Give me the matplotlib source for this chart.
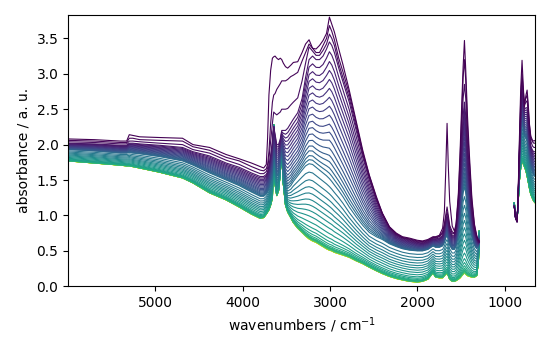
import numpy as np
import matplotlib.pyplot as plt

# wavenumber grids (cm-1), the region 1290-890 is missing in the data
wn_left = [6000, 5700, 5400, 5330, 5300, 5260, 5180, 4950, 4690, 4570,
           4380, 4190, 4040, 3900, 3800, 3760, 3730, 3715, 3700, 3680,
           3660, 3645, 3630, 3610, 3590, 3570, 3553, 3535, 3510, 3485,
           3450, 3420, 3370, 3320, 3280, 3240, 3200, 3160, 3120, 3080,
           3040, 3007, 2980, 2950, 2900, 2850, 2780, 2700, 2625, 2550,
           2470, 2400, 2320, 2240, 2170, 2090, 2000, 1940, 1880, 1820,
           1790, 1747, 1710, 1690, 1675, 1659, 1645, 1629, 1600, 1575,
           1556, 1530, 1510, 1490, 1475, 1460, 1445, 1425, 1403, 1375,
           1346, 1320, 1300, 1290]
wn_right = [889, 875, 857, 845, 830, 815, 800, 785, 773, 755, 742, 728,
            716, 700, 680, 665, 650]

# spectra: first four, one in the middle (#20), last (#54)
s0_left = [2.08, 2.07, 2.05, 2.05, 2.14, 2.13, 2.11, 2.10, 2.09, 2.00,
           1.96, 1.86, 1.80, 1.74, 1.69, 1.67, 1.72, 2.10, 2.70, 3.05,
           3.22, 3.24, 3.25, 3.22, 3.20, 3.22, 3.20, 3.15, 3.10, 3.08,
           3.12, 3.16, 3.17, 3.30, 3.42, 3.48, 3.36, 3.35, 3.40, 3.47,
           3.57, 3.80, 3.70, 3.59, 3.35, 3.12, 2.77, 2.33, 1.92, 1.57,
           1.27, 1.03, 0.84, 0.75, 0.70, 0.68, 0.65, 0.64, 0.66, 0.70,
           0.70, 0.72, 0.82, 1.05, 1.60, 2.30, 1.70, 1.20, 0.85, 0.78,
           0.88, 1.30, 1.90, 2.60, 3.10, 3.47, 3.05, 2.40, 1.85, 1.25,
           0.88, 0.72, 0.65, 0.64]
s1_left = [2.06, 2.05, 2.03, 2.03, 2.09, 2.09, 2.07, 2.06, 2.05, 1.97,
           1.92, 1.82, 1.77, 1.69, 1.64, 1.63, 1.66, 1.72, 1.90, 2.30,
           2.60, 2.70, 2.72, 2.78, 2.82, 2.86, 2.90, 2.90, 2.90, 2.92,
           2.96, 2.98, 3.02, 3.18, 3.30, 3.42, 3.36, 3.30, 3.30, 3.40,
           3.50, 3.68, 3.60, 3.48, 3.22, 3.02, 2.72, 2.30, 1.89, 1.56,
           1.25, 1.03, 0.84, 0.74, 0.69, 0.67, 0.64, 0.63, 0.65, 0.69,
           0.69, 0.71, 0.77, 0.88, 1.00, 1.12, 1.00, 0.86, 0.77, 0.75,
           0.86, 1.25, 1.80, 2.45, 2.95, 3.20, 2.90, 2.25, 1.75, 1.20,
           0.86, 0.71, 0.64, 0.63]
s2_left = [2.04, 2.03, 2.01, 2.01, 2.05, 2.05, 2.04, 2.02, 2.00, 1.93,
           1.88, 1.78, 1.72, 1.64, 1.59, 1.59, 1.62, 1.67, 1.80, 2.05,
           2.30, 2.46, 2.44, 2.42, 2.44, 2.46, 2.50, 2.50, 2.50, 2.51,
           2.56, 2.60, 2.66, 2.90, 3.15, 3.38, 3.32, 3.26, 3.26, 3.33,
           3.42, 3.56, 3.50, 3.40, 3.14, 2.94, 2.66, 2.25, 1.86, 1.53,
           1.23, 1.02, 0.83, 0.73, 0.685, 0.66, 0.63, 0.62, 0.64, 0.68,
           0.68, 0.70, 0.75, 0.85, 0.96, 1.05, 0.96, 0.83, 0.75, 0.74,
           0.83, 1.18, 1.65, 2.25, 2.65, 2.85, 2.65, 2.05, 1.60, 1.10,
           0.82, 0.69, 0.63, 0.62]
s3_left = [2.02, 2.01, 1.99, 1.99, 2.02, 2.02, 2.01, 1.99, 1.96, 1.90,
           1.84, 1.74, 1.68, 1.60, 1.55, 1.55, 1.58, 1.62, 1.70, 1.85,
           2.05, 2.25, 2.15, 2.00, 2.00, 2.08, 2.20, 2.20, 2.20, 2.23,
           2.30, 2.36, 2.45, 2.65, 2.95, 3.20, 3.25, 3.20, 3.20, 3.25,
           3.35, 3.45, 3.40, 3.30, 3.08, 2.88, 2.60, 2.20, 1.82, 1.50,
           1.21, 1.00, 0.82, 0.72, 0.68, 0.65, 0.62, 0.61, 0.63, 0.67,
           0.67, 0.68, 0.72, 0.82, 0.92, 1.00, 0.92, 0.80, 0.72, 0.72,
           0.80, 1.10, 1.50, 2.05, 2.40, 2.60, 2.40, 1.90, 1.50, 1.05,
           0.80, 0.68, 0.62, 0.62]
smid_left = [1.93, 1.91, 1.88, 1.88, 1.89, 1.88, 1.87, 1.83, 1.77, 1.71,
             1.60, 1.50, 1.42, 1.33, 1.27, 1.27, 1.30, 1.33, 1.37, 1.45,
             1.55, 2.25, 1.75, 1.55, 1.58, 1.75, 1.95, 1.65, 1.45, 1.38,
             1.42, 1.48, 1.56, 1.64, 1.70, 1.73, 1.72, 1.68, 1.64, 1.60,
             1.56, 1.52, 1.48, 1.43, 1.35, 1.26, 1.12, 0.98, 0.86, 0.76,
             0.70, 0.66, 0.60, 0.56, 0.53, 0.51, 0.50, 0.50, 0.52, 0.57,
             0.55, 0.55, 0.57, 0.62, 0.68, 0.72, 0.66, 0.58, 0.52, 0.52,
             0.57, 0.72, 0.92, 1.15, 1.32, 1.40, 1.32, 1.10, 0.90, 0.70,
             0.58, 0.53, 0.56, 0.70]
send_left = [1.77, 1.74, 1.71, 1.70, 1.70, 1.69, 1.67, 1.61, 1.53, 1.46,
             1.32, 1.22, 1.12, 1.02, 0.96, 0.97, 1.02, 1.05, 1.08, 1.15,
             1.25, 2.28, 1.45, 1.28, 1.35, 1.60, 1.95, 1.45, 1.15, 1.05,
             0.97, 0.90, 0.82, 0.76, 0.71, 0.67, 0.64, 0.62, 0.59, 0.56,
             0.53, 0.51, 0.50, 0.48, 0.46, 0.44, 0.41, 0.36, 0.32, 0.27,
             0.22, 0.18, 0.14, 0.11, 0.09, 0.07, 0.06, 0.07, 0.10, 0.19,
             0.13, 0.12, 0.12, 0.15, 0.17, 0.18, 0.15, 0.10, 0.07, 0.07,
             0.08, 0.10, 0.12, 0.15, 0.17, 0.19, 0.17, 0.15, 0.14, 0.13,
             0.13, 0.15, 0.35, 0.78]

s0_right = [1.12, 0.97, 0.91, 1.30, 2.10, 2.80, 3.19, 2.80, 2.53, 2.70, 2.77, 2.55, 2.30, 2.12, 2.06, 2.05, 2.06]
s1_right = [1.12, 0.97, 0.91, 1.28, 2.00, 2.65, 3.00, 2.75, 2.60, 2.66, 2.70, 2.50, 2.28, 2.10, 2.04, 2.02, 2.02]
s2_right = [1.13, 0.97, 0.91, 1.26, 1.95, 2.55, 2.88, 2.70, 2.56, 2.60, 2.62, 2.43, 2.22, 2.05, 1.98, 1.96, 1.96]
s3_right = [1.13, 0.97, 0.91, 1.25, 1.90, 2.45, 2.78, 2.62, 2.50, 2.52, 2.52, 2.35, 2.15, 1.98, 1.92, 1.90, 1.90]
smid_right = [1.14, 0.98, 0.92, 1.22, 1.70, 2.10, 2.30, 2.22, 2.12, 2.08, 2.04, 1.92, 1.80, 1.68, 1.60, 1.56, 1.55]
send_right = [1.18, 1.00, 0.93, 1.18, 1.50, 1.68, 1.75, 1.73, 1.69, 1.63, 1.56, 1.47, 1.39, 1.30, 1.24, 1.20, 1.18]

# height of each of the 55 spectra near 3200 cm-1 (last ones pile up)
peak_3200 = [3.36, 3.36, 3.32, 3.25, 3.14, 3.03, 2.93, 2.83, 2.73, 2.63,
             2.53, 2.43, 2.33, 2.24, 2.15, 2.06, 1.98, 1.91, 1.84, 1.78,
             1.72, 1.60, 1.49, 1.39, 1.30, 1.21, 1.13, 1.05, 0.97, 0.89,
             0.82, 0.77, 0.73, 0.70, 0.68, 0.67, 0.665, 0.66, 0.657, 0.655,
             0.653, 0.651, 0.65, 0.649, 0.648, 0.647, 0.646, 0.645, 0.644, 0.643,
             0.642, 0.641, 0.6405, 0.6402, 0.64]

first_left = [s0_left, s1_left, s2_left, s3_left]
first_right = [s0_right, s1_right, s2_right, s3_right]
i_mid = 20


def spectrum(i):
    if i < 4:
        return np.array(first_left[i]), np.array(first_right[i])
    h = peak_3200[i]
    if i <= i_mid:
        t = (peak_3200[3] - h) / (peak_3200[3] - peak_3200[i_mid])
        a_l, a_r, b_l, b_r = s3_left, s3_right, smid_left, smid_right
    else:
        t = (peak_3200[i_mid] - h) / (peak_3200[i_mid] - peak_3200[-1])
        a_l, a_r, b_l, b_r = smid_left, smid_right, send_left, send_right
    left = (1 - t) * np.array(a_l) + t * np.array(b_l)
    right = (1 - t) * np.array(a_r) + t * np.array(b_r)
    return left, right


fig = plt.figure(figsize=(5.5, 3.5), dpi=100)
ax = fig.add_axes([0.124, 0.182, 0.849, 0.774])

n = len(peak_3200)
cmap = plt.get_cmap("viridis")
for i in reversed(range(n)):
    left, right = spectrum(i)
    c = cmap(i / (n - 1))
    ax.plot(wn_left, left, color=c, lw=0.8)
    ax.plot(wn_right, right, color=c, lw=0.8)

ax.set_xlim(5999.6, 649.9)
ax.set_ylim(0, 3.824)
ax.set_xlabel("wavenumbers / cm$^{-1}$")
ax.set_ylabel("absorbance / a. u.")

fig.savefig("out.png", dpi=100)
